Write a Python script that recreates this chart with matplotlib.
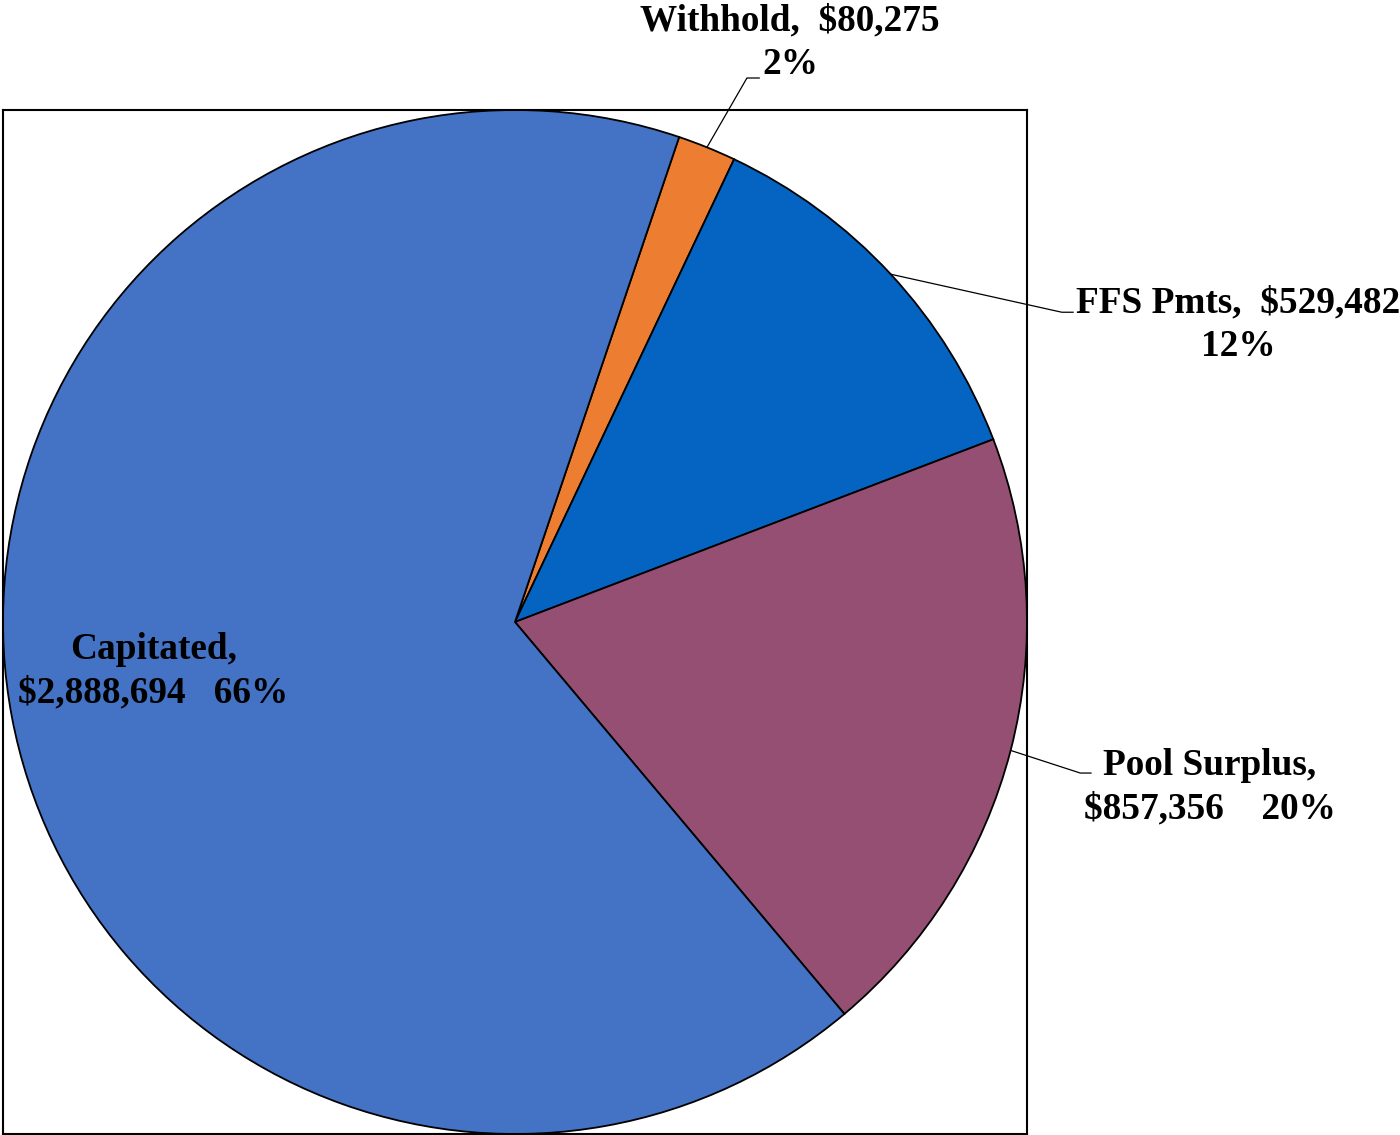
import numpy as np
import matplotlib
matplotlib.use("Agg")
import matplotlib.pyplot as plt

# Payment breakdown (clockwise from the Withhold slice)
categories = ["Withhold", "FFS Pmts", "Pool Surplus", "Capitated"]
amounts = [80275, 529482, 857356, 2888694]
amount_labels = ["$80,275", "$529,482", "$857,356", "$2,888,694"]
percent_labels = ["2%", "12%", "20%", "66%"]
label_texts = [
    "Withhold,  $80,275\n2%",
    "FFS Pmts,  $529,482\n12%",
    "Pool Surplus,\n$857,356    20%",
    "Capitated,\n$2,888,694   66%",
]
colors = ["#ED7D31", "#0563C1", "#954F72", "#4472C4"]

W, H = 1400, 1135
fig = plt.figure(figsize=(W / 100, H / 100), dpi=100)
ax = fig.add_axes([3 / W, 1 / H, 1024 / W, 1024 / H])

wedges, _ = ax.pie(
    amounts,
    colors=colors,
    startangle=71.3,
    counterclock=False,
    radius=1.0,
    wedgeprops=dict(edgecolor="black", linewidth=1.3),
)
ax.set_xlim(-1, 1)
ax.set_ylim(-1, 1)
ax.set_aspect("equal")
ax.set_frame_on(True)
for sp in ax.spines.values():
    sp.set_linewidth(1.5)
    sp.set_color("black")
ax.set_xticks([])
ax.set_yticks([])

font = dict(family="Liberation Serif", fontweight="bold", fontsize=26.8,
            ha="center", va="center", multialignment="center",
            linespacing=1.31, clip_on=False)

# label centres and leader-line elbows (axes data units)
label_pos = [(0.537, 1.131), (1.413, 0.581), (1.357, -0.322), (-0.706, -0.096)]
elbows = [((0.453, 1.0625), (0.477, 1.0625)),
          ((1.068, 0.605), (1.090, 0.605)),
          ((1.104, -0.295), (1.125, -0.295)),
          None]

for w, txt, pos, elb in zip(wedges, label_texts, label_pos, elbows):
    ax.text(pos[0], pos[1], txt, **font)
    if elb is not None:
        mid = np.deg2rad((w.theta1 + w.theta2) / 2)
        start = (np.cos(mid), np.sin(mid))
        xs = [start[0], elb[0][0], elb[1][0]]
        ys = [start[1], elb[0][1], elb[1][1]]
        ax.plot(xs, ys, color="black", linewidth=0.9, clip_on=False)

fig.savefig("out.png", dpi=100)
